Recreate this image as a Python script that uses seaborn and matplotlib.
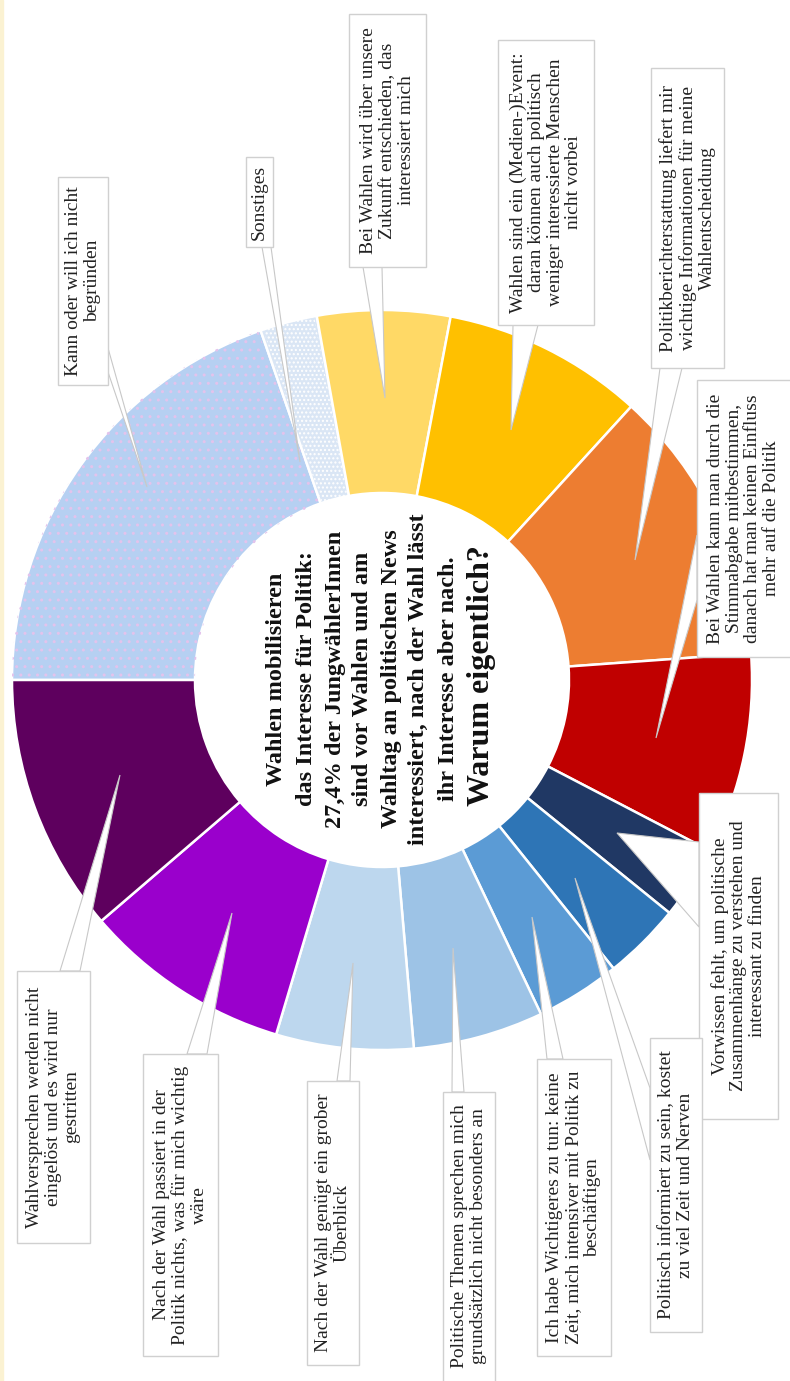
import matplotlib
matplotlib.use("Agg")
import matplotlib.pyplot as plt
from matplotlib.patches import Rectangle, Polygon, Wedge
import seaborn as sns
import pandas as pd

# reasons, in pie order (clockwise from 9 o'clock of the rotated chart)
reasons = [
    "Kann oder will ich nicht\nbegründen",
    "Sonstiges",
    "Bei Wahlen wird über unsere\nZukunft entschieden, das\ninteressiert mich",
    "Wahlen sind ein (Medien-)Event:\ndaran können auch politisch\nweniger interessierte Menschen\nnicht vorbei",
    "Politikberichterstattung liefert mir\nwichtige Informationen für meine\nWahlentscheidung",
    "Bei Wahlen kann man durch die\nStimmabgabe mitbestimmen,\ndanach hat man keinen Einfluss\nmehr auf die Politik",
    "Vorwissen fehlt, um politische\nZusammenhänge zu verstehen und\ninteressant zu finden",
    "Politisch informiert zu sein, kostet\nzu viel Zeit und Nerven",
    "Ich habe Wichtigeres zu tun: keine\nZeit, mich intensiver mit Politik zu\nbeschäftigen",
    "Politische Themen sprechen mich\ngrundsätzlich nicht besonders an",
    "Nach der Wahl genügt ein grober\nÜberblick",
    "Nach der Wahl passiert in der\nPolitik nichts, was für mich wichtig\nwäre",
    "Wahlversprechen werden nicht\neingelöst und es wird nur\ngestritten",
]
shares = [19.7, 2.5, 5.8, 8.8, 12.1, 8.8, 3.2, 3.4, 3.7, 5.7, 6.0, 9.1, 11.3]

title_lines = [
    "Wahlen mobilisieren",
    "das Interesse für Politik:",
    "27,4% der JungwählerInnen",
    "sind vor Wahlen und am",
    "Wahltag an politischen News",
    "interessiert, nach der Wahl lässt",
    "ihr Interesse aber nach.",
]
question = "Warum eigentlich?"

colors = ["#b6d0f2", "#dae6f5", "#ffd966", "#ffc000", "#ed7d31", "#c00000",
          "#203864", "#2e75b6", "#5b9bd5", "#9dc3e6", "#bdd7ee", "#9a00cc", "#5e005e"]

# layout (pixel coords, y pointing down): label boxes x0, x1, y0, y1
boxes = [
    (58, 108, 177, 385), (246, 273, 157, 247), (349, 426, 14, 267),
    (498, 594, 40, 325), (651, 724, 68, 368), (697, 800, 380, 657),
    (699, 778, 793, 1119), (650, 702, 1038, 1332), (537, 611, 1059, 1356),
    (443, 495, 1092, 1395), (307, 359, 1081, 1365), (143, 218, 1054, 1356),
    (17, 90, 971, 1243),
]
# callout tails: two base points on the box and the tip inside the ring
tails = [
    ((108, 348), (108, 372), (147, 487)),
    ((262, 247), (271, 247), (300, 462)),
    ((363, 267), (382, 267), (385, 398)),
    ((513, 325), (538, 325), (511, 430)),
    ((660, 368), (682, 368), (635, 560)),
    ((697, 535), (697, 600), (656, 738)),
    ((699, 842), (699, 927), (617, 833)),
    ((650, 1088), (650, 1160), (575, 878)),
    ((547, 1059), (563, 1059), (532, 917)),
    ((452, 1092), (464, 1092), (453, 948)),
    ((337, 1081), (350, 1081), (353, 963)),
    ((187, 1054), (207, 1054), (232, 913)),
    ((60, 971), (80, 971), (120, 775)),
]

sns.set_theme(style="white")
plt.rcParams['font.family'] = ['Liberation Serif', 'DejaVu Serif']

df = pd.DataFrame({'reason': reasons, 'share': shares, 'color': colors})

W, H = 790, 1381
fig = plt.figure(figsize=(W / 100, H / 100), dpi=100)
ax = fig.add_axes([0, 0, 1, 1])
cx, cy, R, r = 382, 680, 370, 187

wedges, _ = ax.pie(df['share'], colors=df['color'], startangle=180, counterclock=True,
                   radius=R, center=(cx, cy), frame=True,
                   wedgeprops=dict(width=R - r, edgecolor='white', linewidth=1.8))

# speckled look for the two "rest" categories
for i, hc, hp in [(0, '#e3c3ec', '..'), (1, '#ffffff', '....')]:
    w = wedges[i]
    ax.add_patch(Wedge(w.center, w.r, w.theta1 + 0.4, w.theta2 - 0.4, width=w.width,
                       facecolor='none', edgecolor=hc, lw=0, hatch=hp, zorder=1.5))

for (x0, x1, y0, y1), tail, label in zip(boxes, tails, df['reason']):
    ax.add_patch(Polygon(tail, closed=True, facecolor='white', edgecolor='#c8c8c8',
                         lw=0.8, zorder=3))
    ax.add_patch(Rectangle((x0, y0), x1 - x0, y1 - y0, facecolor='white',
                           edgecolor='#d0d0d0', lw=1, zorder=4))
    # centre the text on the visible part of the box
    tx = (x0 + min(x1, W)) / 2
    ty = (y0 + min(y1, H)) / 2
    ax.text(tx, ty, label, rotation=90, ha='center', va='center',
            multialignment='center', fontsize=14, linespacing=1.12, color='#222222', zorder=5)

title_x = [277, 307, 335, 363, 392, 418, 448]
for x, line in zip(title_x, title_lines):
    ax.text(x, 679, line, rotation=90, ha='center', va='center', fontsize=17.5,
            fontweight='bold', color='#111111', zorder=5)
ax.text(481, 676, question, rotation=90, ha='center', va='center', fontsize=23,
        fontweight='bold', color='#111111', zorder=5)

ax.axvspan(0, 3, color='#fbf2d2', zorder=0)
ax.set_xlim(0, W)
ax.set_ylim(H, 0)
ax.set_aspect('equal')
ax.axis('off')

fig.savefig('out.png', dpi=100)
